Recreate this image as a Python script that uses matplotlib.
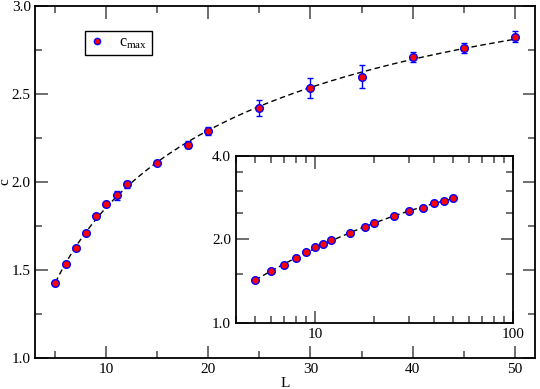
import matplotlib
matplotlib.use("Agg")
import matplotlib.pyplot as plt
import numpy as np
from matplotlib.ticker import MultipleLocator, FixedLocator, NullFormatter
from matplotlib.lines import Line2D

plt.rcParams['font.family'] = ['Liberation Serif', 'DejaVu Serif']
plt.rcParams['mathtext.fontset'] = 'custom'
plt.rcParams['mathtext.rm'] = 'Liberation Serif'
plt.rcParams['mathtext.it'] = 'Liberation Serif'
plt.rcParams['font.size'] = 11

# data
L = np.array([5, 6, 7, 8, 9, 10, 11, 12, 15, 18, 20, 25, 30, 35, 40, 45, 50])
c_max = np.array([1.424, 1.536, 1.623, 1.712, 1.805, 1.873, 1.924, 1.987,
                  2.106, 2.212, 2.290, 2.422, 2.534, 2.598, 2.708, 2.763, 2.826])
c_err = np.array([0.012, 0.010, 0.010, 0.010, 0.012, 0.012, 0.025, 0.020,
                  0.012, 0.020, 0.025, 0.045, 0.056, 0.064, 0.028, 0.028, 0.032])

# smooth fit curve (quadratic in log-log)
coef = np.polyfit(np.log(L), np.log(c_max), 2)
L_fit = np.linspace(L.min(), L.max(), 300)
c_fit = np.exp(np.polyval(coef, np.log(L_fit)))

fig = plt.figure(figsize=(5.4, 3.89), dpi=100)
ax = fig.add_axes([0.0648, 0.0797, 0.9259, 0.905])

ax.plot(L_fit, c_fit, '--', color='black', lw=1, dashes=(4, 2.5))
ax.errorbar(L, c_max, yerr=c_err, fmt='o', ms=5.5, mfc='red', mec='blue',
            mew=1, ecolor='blue', elinewidth=1, capsize=2)
ax.set_xlim(3, 52)
ax.set_ylim(1, 3)
ax.xaxis.set_major_locator(MultipleLocator(10))
ax.xaxis.set_minor_locator(MultipleLocator(5))
ax.yaxis.set_major_locator(MultipleLocator(0.5))
ax.yaxis.set_minor_locator(MultipleLocator(0.25))
ax.yaxis.set_major_formatter(matplotlib.ticker.FormatStrFormatter('%.1f'))
ax.tick_params(which='both', direction='in', top=True, right=True, color='#555555')
ax.tick_params(which='major', length=9, width=1.2)
ax.tick_params(which='minor', length=5, width=1.2)
ax.tick_params(axis='y', pad=3)
for s in ax.spines.values():
    s.set_linewidth(1.3)
ax.set_xlabel('L', labelpad=1)
ax.set_ylabel('c')
ax.yaxis.set_label_coords(-0.047, 0.5)

handle = Line2D([], [], ls='none', marker='o', ms=4.5, mfc='red', mec='blue', mew=1)
leg = ax.legend([handle], [r'c$_{\mathrm{max}}$'], loc='upper left',
                bbox_to_anchor=(0.1, 0.929), borderaxespad=0, fancybox=False,
                edgecolor='black', framealpha=1, handletextpad=0.9,
                handlelength=1.0, borderpad=0.25, numpoints=1, fontsize=11.5)
leg.get_frame().set_linewidth(1)

# inset, log-log
ins = fig.add_axes([0.437, 0.1697, 0.513, 0.4293])
ins.plot(L_fit, c_fit, '--', color='black', lw=1, dashes=(4, 2.5))
ins.errorbar(L, c_max, yerr=c_err, fmt='o', ms=5.5, mfc='red', mec='blue',
             mew=1, ecolor='blue', elinewidth=1, capsize=1.5)
ins.set_xscale('log')
ins.set_yscale('log', base=2)
ins.set_xlim(4, 100)
ins.set_ylim(1, 4)
ins.xaxis.set_major_locator(FixedLocator([10, 100]))
ins.xaxis.set_major_formatter(matplotlib.ticker.FixedFormatter(['10', '100']))
ins.xaxis.set_minor_locator(FixedLocator([4, 5, 6, 7, 8, 9, 20, 30, 40, 50, 60, 70, 80, 90]))
ins.xaxis.set_minor_formatter(NullFormatter())
ins.yaxis.set_major_locator(FixedLocator([1, 2, 4]))
ins.yaxis.set_major_formatter(matplotlib.ticker.FixedFormatter(['1.0', '2.0', '4.0']))
ins.yaxis.set_minor_locator(FixedLocator([1.5, 2.5, 3.0, 3.5]))
ins.yaxis.set_minor_formatter(NullFormatter())
ins.tick_params(which='both', direction='in', top=True, right=True, color='#555555')
ins.tick_params(which='major', length=9, width=1.2)
ins.tick_params(which='minor', length=5, width=1.2)
for s in ins.spines.values():
    s.set_linewidth(1.3)

fig.savefig('out.png', dpi=100)
